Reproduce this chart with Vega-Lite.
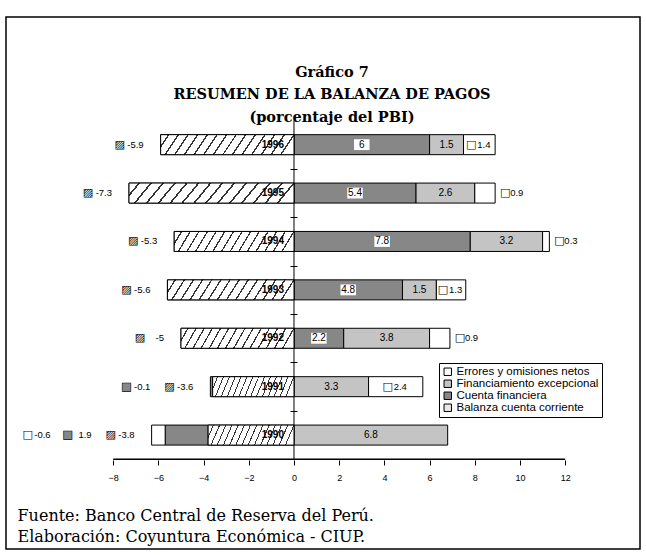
{
  "$schema": "https://vega.github.io/schema/vega-lite/v6.json",
  "width": 634,
  "height": 532,
  "autosize": {"type": "none"},
  "padding": {"left": 6, "top": 17, "right": 6, "bottom": 6},
  "background": "white",
  "config": {"view": {"stroke": "black", "strokeWidth": 1.5}, "font": "Liberation Sans"},
  "title": {
    "text": ["Gráfico 7", "RESUMEN DE LA BALANZA DE PAGOS", "(porcentaje del PBI)"],
    "anchor": "middle", "frame": "group", "orient": "top", "offset": -43, "baseline": "top", "dy": 65,
    "font": "DejaVu Serif", "fontWeight": "bold", "fontSize": 14.5, "lineHeight": 22.5, "color": "black", "dx": 9
  },
  "data": {"values": [
    {"year": 1996, "cat": "Balanza cuenta corriente", "v": -5.9, "o": 1, "lab": "-5.9"},
    {"year": 1996, "cat": "Cuenta financiera", "v": 6, "o": 2, "lab": "6"},
    {"year": 1996, "cat": "Financiamiento excepcional", "v": 1.5, "o": 3, "lab": "1.5"},
    {"year": 1996, "cat": "Errores y omisiones netos", "v": 1.4, "o": 4, "lab": "1.4"},
    {"year": 1995, "cat": "Balanza cuenta corriente", "v": -7.3, "o": 1, "lab": "-7.3"},
    {"year": 1995, "cat": "Cuenta financiera", "v": 5.4, "o": 2, "lab": "5.4"},
    {"year": 1995, "cat": "Financiamiento excepcional", "v": 2.6, "o": 3, "lab": "2.6"},
    {"year": 1995, "cat": "Errores y omisiones netos", "v": 0.9, "o": 4, "lab": "0.9"},
    {"year": 1994, "cat": "Balanza cuenta corriente", "v": -5.3, "o": 1, "lab": "-5.3"},
    {"year": 1994, "cat": "Cuenta financiera", "v": 7.8, "o": 2, "lab": "7.8"},
    {"year": 1994, "cat": "Financiamiento excepcional", "v": 3.2, "o": 3, "lab": "3.2"},
    {"year": 1994, "cat": "Errores y omisiones netos", "v": 0.3, "o": 4, "lab": "0.3"},
    {"year": 1993, "cat": "Balanza cuenta corriente", "v": -5.6, "o": 1, "lab": "-5.6"},
    {"year": 1993, "cat": "Cuenta financiera", "v": 4.8, "o": 2, "lab": "4.8"},
    {"year": 1993, "cat": "Financiamiento excepcional", "v": 1.5, "o": 3, "lab": "1.5"},
    {"year": 1993, "cat": "Errores y omisiones netos", "v": 1.3, "o": 4, "lab": "1.3"},
    {"year": 1992, "cat": "Balanza cuenta corriente", "v": -5, "o": 1, "lab": "-5"},
    {"year": 1992, "cat": "Cuenta financiera", "v": 2.2, "o": 2, "lab": "2.2"},
    {"year": 1992, "cat": "Financiamiento excepcional", "v": 3.8, "o": 3, "lab": "3.8"},
    {"year": 1992, "cat": "Errores y omisiones netos", "v": 0.9, "o": 4, "lab": "0.9"},
    {"year": 1991, "cat": "Balanza cuenta corriente", "v": -3.6, "o": 1, "lab": "-3.6"},
    {"year": 1991, "cat": "Cuenta financiera", "v": -0.1, "o": 2, "lab": "-0.1"},
    {"year": 1991, "cat": "Financiamiento excepcional", "v": 3.3, "o": 3, "lab": "3.3"},
    {"year": 1991, "cat": "Errores y omisiones netos", "v": 2.4, "o": 4, "lab": "2.4"},
    {"year": 1990, "cat": "Balanza cuenta corriente", "v": -3.8, "o": 1, "lab": "-3.8"},
    {"year": 1990, "cat": "Cuenta financiera", "v": -1.9, "o": 2, "lab": "1.9"},
    {"year": 1990, "cat": "Financiamiento excepcional", "v": 6.8, "o": 3, "lab": "6.8"},
    {"year": 1990, "cat": "Errores y omisiones netos", "v": -0.6, "o": 4, "lab": "-0.6"}
  ]},
  "transform": [
    {"stack": "v", "groupby": ["year"], "sort": [{"field": "o", "order": "ascending"}], "as": ["v0", "v1"]},
    {"joinaggregate": [{"op": "min", "field": "v1", "as": "left"}], "groupby": ["year"]},
    {"calculate": "(datum.v0 + datum.v1) / 2", "as": "mid"}
  ],
  "layer": [
    {
      "mark": {"type": "bar", "size": 20, "stroke": "black", "strokeWidth": 1},
      "encoding": {
        "x": {"field": "v0", "type": "quantitative", "scale": {"domain": [-12.743, 15.31], "nice": false, "zero": false},
          "axis": {"orient": "bottom", "offset": -89, "values": [-8, -6, -4, -2, 0, 2, 4, 6, 8, 10, 12], "domain": false, "grid": false,
            "ticks": true, "labels": true,
            "tickSize": 5, "tickColor": "black", "labelFontSize": 9, "labelColor": "black", "labelPadding": 8, "labelFlush": false, "labelFont": "Liberation Sans",
            "title": ["Fuente: Banco Central de Reserva del Perú.", "Elaboración: Coyuntura Económica - CIUP."],
            "titleX": 11, "titleY": 47, "titleAlign": "left", "titleAnchor": "start", "titleBaseline": "top", "titleAngle": 0,
            "titleFont": "DejaVu Serif", "titleFontWeight": "normal", "titleFontSize": 16, "titleLineHeight": 21, "titleColor": "black"}},
        "x2": {"field": "v1"},
        "y": {"field": "year", "type": "quantitative", "scale": {"domain": [1987.75, 1998.534], "nice": false, "zero": false},
          "axis": {"orient": "left", "offset": -291, "values": [1990.5, 1991.5, 1992.5, 1993.5, 1994.5, 1995.5], "labels": false, "domain": false, "grid": false, "ticks": true, "tickSize": 7, "tickColor": "black", "title": null}},
        "color": {"field": "cat", "type": "nominal",
          "scale": {"domain": ["Errores y omisiones netos", "Financiamiento excepcional", "Cuenta financiera", "Balanza cuenta corriente"],
                    "range": ["#ffffff", "#c4c4c4", "#878787", "#e8e8e8"]},
          "legend": {"orient": "none", "legendX": 433, "legendY": 346, "title": null, "padding": 3, "rowPadding": -1.5,
            "strokeColor": "black", "fillColor": "white", "symbolType": "square", "symbolSize": 55, "symbolStrokeColor": "black", "symbolStrokeWidth": 1,
            "labelFont": "Liberation Sans", "labelFontSize": 11.5, "labelColor": "black", "labelOffset": 3, "labelLimit": 220}}
      }
    },
    {
      "data": {"values": [{}]},
      "mark": {"type": "rule", "color": "black", "strokeWidth": 1},
      "encoding": {
        "x": {"datum": 0, "type": "quantitative"},
        "y": {"datum": 1989.5, "type": "quantitative"},
        "y2": {"datum": 1996.5}
      }
    },
    {
      "data": {"values": [{}]},
      "mark": {"type": "rule", "color": "black", "strokeWidth": 1.5},
      "encoding": {
        "x": {"datum": -8, "type": "quantitative"},
        "x2": {"datum": 12},
        "y": {"datum": 1989.5, "type": "quantitative"}
      }
    },
    {
      "transform": [{"filter": "datum.cat === 'Balanza cuenta corriente'"}],
      "mark": {"type": "bar", "size": 20, "stroke": "black", "strokeWidth": 1,
        "fill": {"gradient": "linear", "x1": 0, "y1": 0, "x2": 1, "y2": 0.1, "stops": [
          {"offset": 0, "color": "white"},
          {"offset": 0.055, "color": "white"}, {"offset": 0.055, "color": "#333"}, {"offset": 0.067, "color": "#333"}, {"offset": 0.067, "color": "white"},
          {"offset": 0.1264, "color": "white"}, {"offset": 0.1264, "color": "#333"}, {"offset": 0.1384, "color": "#333"}, {"offset": 0.1384, "color": "white"},
          {"offset": 0.1979, "color": "white"}, {"offset": 0.1979, "color": "#333"}, {"offset": 0.2099, "color": "#333"}, {"offset": 0.2099, "color": "white"},
          {"offset": 0.2693, "color": "white"}, {"offset": 0.2693, "color": "#333"}, {"offset": 0.2813, "color": "#333"}, {"offset": 0.2813, "color": "white"},
          {"offset": 0.3407, "color": "white"}, {"offset": 0.3407, "color": "#333"}, {"offset": 0.3527, "color": "#333"}, {"offset": 0.3527, "color": "white"},
          {"offset": 0.4121, "color": "white"}, {"offset": 0.4121, "color": "#333"}, {"offset": 0.4241, "color": "#333"}, {"offset": 0.4241, "color": "white"},
          {"offset": 0.4836, "color": "white"}, {"offset": 0.4836, "color": "#333"}, {"offset": 0.4956, "color": "#333"}, {"offset": 0.4956, "color": "white"},
          {"offset": 0.555, "color": "white"}, {"offset": 0.555, "color": "#333"}, {"offset": 0.567, "color": "#333"}, {"offset": 0.567, "color": "white"},
          {"offset": 0.6264, "color": "white"}, {"offset": 0.6264, "color": "#333"}, {"offset": 0.6384, "color": "#333"}, {"offset": 0.6384, "color": "white"},
          {"offset": 0.6979, "color": "white"}, {"offset": 0.6979, "color": "#333"}, {"offset": 0.7099, "color": "#333"}, {"offset": 0.7099, "color": "white"},
          {"offset": 0.7693, "color": "white"}, {"offset": 0.7693, "color": "#333"}, {"offset": 0.7813, "color": "#333"}, {"offset": 0.7813, "color": "white"},
          {"offset": 0.8407, "color": "white"}, {"offset": 0.8407, "color": "#333"}, {"offset": 0.8527, "color": "#333"}, {"offset": 0.8527, "color": "white"},
          {"offset": 0.9121, "color": "white"}, {"offset": 0.9121, "color": "#333"}, {"offset": 0.9241, "color": "#333"}, {"offset": 0.9241, "color": "white"},
          {"offset": 0.9836, "color": "white"}, {"offset": 0.9836, "color": "#333"}, {"offset": 0.9956, "color": "#333"}, {"offset": 0.9956, "color": "white"},
          {"offset": 1, "color": "white"}]}},
      "encoding": {
        "x": {"field": "v0", "type": "quantitative"},
        "x2": {"field": "v1"},
        "y": {"field": "year", "type": "quantitative"}
      }
    },
    {
      "transform": [{"filter": "datum.cat === 'Balanza cuenta corriente'"}],
      "mark": {"type": "text", "align": "right", "baseline": "middle", "dx": -10, "fontSize": 10, "fontWeight": "bold", "color": "black"},
      "encoding": {
        "x": {"datum": 0, "type": "quantitative"},
        "y": {"field": "year", "type": "quantitative"},
        "text": {"field": "year", "type": "quantitative", "format": "d"}
      }
    },
    {
      "transform": [{"filter": "datum.cat === 'Cuenta financiera' && datum.v > 0"}],
      "mark": {"type": "point", "shape": "M-1,-0.7L1,-0.7L1,0.7L-1,0.7Z", "size": 240, "filled": true, "fill": "white", "opacity": 1, "strokeWidth": 0},
      "encoding": {
        "x": {"field": "mid", "type": "quantitative"},
        "y": {"field": "year", "type": "quantitative"}
      }
    },
    {
      "transform": [{"filter": "(datum.cat === 'Cuenta financiera' || datum.cat === 'Financiamiento excepcional') && datum.v > 0"}],
      "mark": {"type": "text", "align": "center", "baseline": "middle", "fontSize": 10, "color": "black"},
      "encoding": {
        "x": {"field": "mid", "type": "quantitative"},
        "y": {"field": "year", "type": "quantitative"},
        "text": {"field": "lab"}
      }
    },
    {
      "transform": [{"filter": "datum.cat === 'Errores y omisiones netos' && datum.v >= 1.3"}],
      "mark": {"type": "text", "text": "□", "font": "DejaVu Sans", "align": "center", "baseline": "middle", "dx": -8, "fontSize": 11, "color": "black"},
      "encoding": {
        "x": {"field": "mid", "type": "quantitative"},
        "y": {"field": "year", "type": "quantitative"}
      }
    },
    {
      "transform": [{"filter": "datum.cat === 'Errores y omisiones netos' && datum.v >= 1.3"}],
      "mark": {"type": "text", "align": "left", "baseline": "middle", "dx": -2, "fontSize": 9.5, "color": "black"},
      "encoding": {
        "x": {"field": "mid", "type": "quantitative"},
        "y": {"field": "year", "type": "quantitative"},
        "text": {"field": "lab"}
      }
    },
    {
      "transform": [{"filter": "datum.cat === 'Errores y omisiones netos' && datum.v > 0 && datum.v < 1.3"}],
      "mark": {"type": "text", "text": "□", "font": "DejaVu Sans", "align": "center", "baseline": "middle", "dx": 10, "fontSize": 11, "color": "black"},
      "encoding": {
        "x": {"field": "v1", "type": "quantitative"},
        "y": {"field": "year", "type": "quantitative"}
      }
    },
    {
      "transform": [{"filter": "datum.cat === 'Errores y omisiones netos' && datum.v > 0 && datum.v < 1.3"}],
      "mark": {"type": "text", "align": "left", "baseline": "middle", "dx": 15, "fontSize": 9.5, "color": "black"},
      "encoding": {
        "x": {"field": "v1", "type": "quantitative"},
        "y": {"field": "year", "type": "quantitative"},
        "text": {"field": "lab"}
      }
    },
    {
      "transform": [{"filter": "datum.cat === 'Balanza cuenta corriente'"}],
      "mark": {"type": "text", "align": "right", "baseline": "middle", "dx": -17, "fontSize": 9.5, "color": "black"},
      "encoding": {
        "x": {"field": "left", "type": "quantitative"},
        "y": {"field": "year", "type": "quantitative"},
        "text": {"field": "lab"}
      }
    },
    {
      "transform": [{"filter": "datum.cat === 'Balanza cuenta corriente'"}],
      "mark": {"type": "text", "text": "▨", "font": "DejaVu Sans", "align": "center", "baseline": "middle", "dx": -41, "fontSize": 11, "color": "black"},
      "encoding": {
        "x": {"field": "left", "type": "quantitative"},
        "y": {"field": "year", "type": "quantitative"}
      }
    },
    {
      "transform": [{"filter": "datum.cat === 'Cuenta financiera' && datum.v < 0"}],
      "mark": {"type": "text", "align": "right", "baseline": "middle", "dx": -60, "fontSize": 9.5, "color": "black"},
      "encoding": {
        "x": {"field": "left", "type": "quantitative"},
        "y": {"field": "year", "type": "quantitative"},
        "text": {"field": "lab"}
      }
    },
    {
      "transform": [{"filter": "datum.cat === 'Cuenta financiera' && datum.v < 0"}],
      "mark": {"type": "text", "text": "■", "font": "DejaVu Sans", "align": "center", "baseline": "middle", "dx": -84, "fontSize": 11, "fill": "#878787", "stroke": "black", "strokeWidth": 0.6},
      "encoding": {
        "x": {"field": "left", "type": "quantitative"},
        "y": {"field": "year", "type": "quantitative"}
      }
    },
    {
      "transform": [{"filter": "datum.cat === 'Errores y omisiones netos' && datum.v < 0"}],
      "mark": {"type": "text", "align": "right", "baseline": "middle", "dx": -101, "fontSize": 9.5, "color": "black"},
      "encoding": {
        "x": {"field": "left", "type": "quantitative"},
        "y": {"field": "year", "type": "quantitative"},
        "text": {"field": "lab"}
      }
    },
    {
      "transform": [{"filter": "datum.cat === 'Errores y omisiones netos' && datum.v < 0"}],
      "mark": {"type": "text", "text": "□", "font": "DejaVu Sans", "align": "center", "baseline": "middle", "dx": -124, "fontSize": 11, "color": "black"},
      "encoding": {
        "x": {"field": "left", "type": "quantitative"},
        "y": {"field": "year", "type": "quantitative"}
      }
    }
  ]
}
